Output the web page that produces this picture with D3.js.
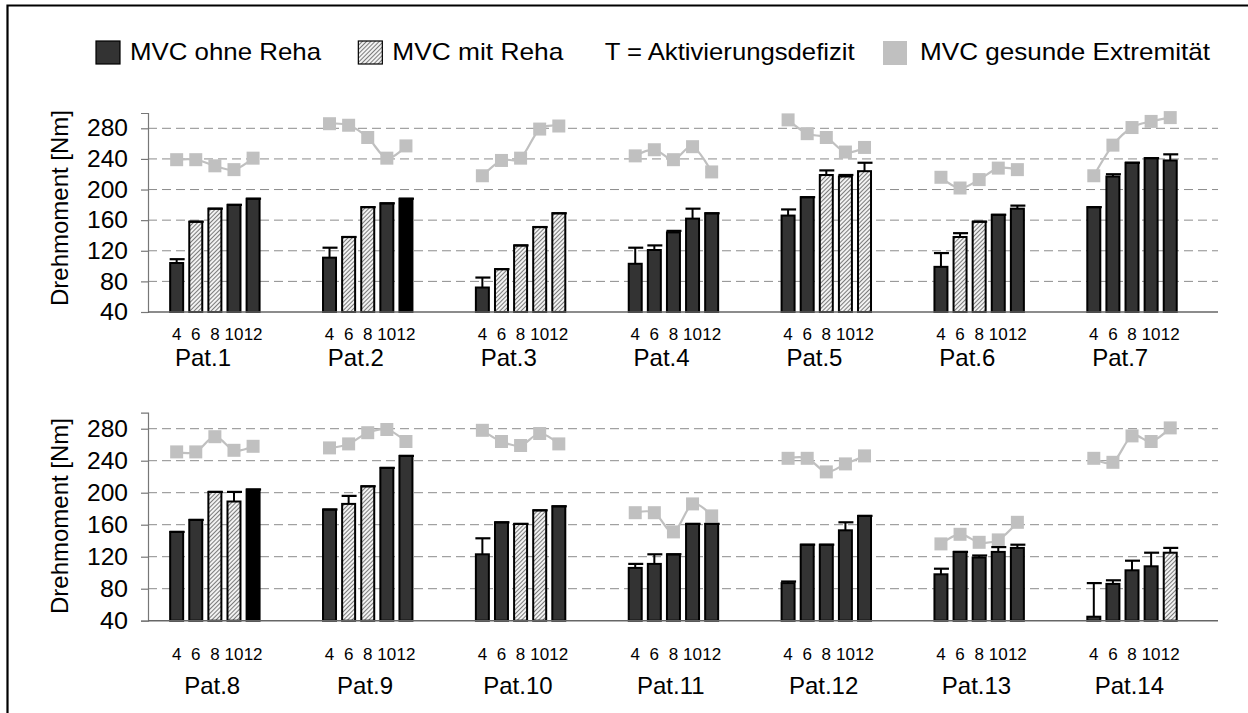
<!DOCTYPE html>
<html>
<head>
<meta charset="utf-8">
<script src="https://cdn.jsdelivr.net/npm/d3@7/dist/d3.min.js"></script>
<style>
  html, body { margin: 0; padding: 0; background: #fff; }
  svg { display: block; font-family: "Liberation Sans", Arial, sans-serif; }
</style>
</head>
<body>
<svg id="chart" width="1248" height="713"></svg>
<script>
// Isokinetic knee torque (MVC) per patient, measured at weeks 4, 6, 8, 10, 12
const patients = ["Pat.1","Pat.2","Pat.3","Pat.4","Pat.5","Pat.6","Pat.7",
                  "Pat.8","Pat.9","Pat.10","Pat.11","Pat.12","Pat.13","Pat.14"];
const visits = ["4","6","8","10","12"];
const yTicks = [40, 80, 120, 160, 200, 240, 280];

// MVC of the injured leg [Nm]
const mvcValues = [
  [104, 158, 175, 180, 188],
  [111, 138, 177, 182, 188],
  [72, 96, 127, 151, 169],
  [103, 121, 144, 162, 169],
  [166, 190, 219, 217, 224],
  [99, 138, 158, 167, 175],
  [177, 217, 235, 241, 238],
  [151, 166, 201, 189, 204],
  [179, 186, 208, 231, 246],
  [123, 163, 161, 178, 183],
  [106, 111, 123, 161, 161],
  [87, 135, 135, 153, 171],
  [98, 126, 119, 126, 131],
  [45, 86, 103, 108, 125]
];

// activation deficit, drawn as upper error bar [Nm]
const deficitValues = [
  [5, 0, 0, 0, 0],
  [13, 0, 0, 0, 0],
  [13, 0, 0, 0, 0],
  [21, 6, 2, 13, 0],
  [8, 0, 6, 2, 11],
  [18, 5, 0, 0, 4],
  [0, 3, 0, 0, 8],
  [0, 0, 0, 12, 0],
  [0, 10, 0, 0, 0],
  [20, 0, 0, 0, 0],
  [5, 12, 0, 0, 0],
  [2, 0, 0, 10, 0],
  [7, 0, 2.5, 6, 4],
  [42, 4.5, 12, 17, 6]
];

// MVC of the healthy leg [Nm]
const healthyValues = [
  [239, 239, 231, 226, 241],
  [286, 284, 268, 241, 257],
  [218, 238, 241, 279, 283],
  [244, 252, 239, 256, 223],
  [291, 273, 268, 249, 255],
  [216, 202, 213, 228, 226],
  [218, 258, 281, 289, 294],
  [251, 251, 270, 253, 258],
  [256, 261, 275, 279, 264],
  [278, 264, 259, 274, 261],
  [175, 175, 151, 186, 171],
  [243, 243, 226, 236, 246],
  [136, 148, 138, 141, 163],
  [243, 238, 271, 264, 281]
];

// "ohne" = without rehab, "mit" = with rehab, "schwarz" = solid black bar
const barKinds = [
  ["ohne","mit","mit","ohne","ohne"],
  ["ohne","mit","mit","ohne","schwarz"],
  ["ohne","mit","mit","mit","mit"],
  ["ohne","ohne","ohne","ohne","ohne"],
  ["ohne","ohne","mit","mit","mit"],
  ["ohne","mit","mit","ohne","ohne"],
  ["ohne","ohne","ohne","ohne","ohne"],
  ["ohne","ohne","mit","mit","schwarz"],
  ["ohne","mit","mit","ohne","ohne"],
  ["ohne","ohne","mit","mit","ohne"],
  ["ohne","ohne","ohne","ohne","ohne"],
  ["ohne","ohne","ohne","ohne","ohne"],
  ["ohne","ohne","ohne","ohne","ohne"],
  ["ohne","ohne","ohne","ohne","mit"]
];

const legendItems = [
  { key: "ohne", label: "MVC ohne Reha" },
  { key: "mit", label: "MVC mit Reha" },
  { key: "text", label: "T = Aktivierungsdefizit" },
  { key: "gesund", label: "MVC gesunde Extremität" }
];

const svg = d3.select("#chart");
const FONT = "'Liberation Sans', Arial, sans-serif";

// hatch for the "mit Reha" bars
const defs = svg.append("defs");
const pat = defs.append("pattern")
  .attr("id", "hatch").attr("patternUnits", "userSpaceOnUse")
  .attr("width", 3).attr("height", 3)
  .attr("patternTransform", "rotate(45)");
pat.append("rect").attr("width", 3).attr("height", 3).attr("fill", "#f2f2f2");
pat.append("line").attr("x1", 0).attr("y1", 0).attr("x2", 0).attr("y2", 3)
  .attr("stroke", "#3a3a3a").attr("stroke-width", 1.3);

const fills = { ohne: "#333333", mit: "url(#hatch)", schwarz: "#000000" };

// outer frame (top and left edges visible)
svg.append("path")
  .attr("d", "M7.5,720 V5.5 H1260")
  .attr("fill", "none").attr("stroke", "#000").attr("stroke-width", 2.2);

// legend
const legend = svg.append("g");
const legendX = d3.scalePoint().domain(legendItems.map(d => d.key)).range([96, 883]);
const legendTextW = { ohne: 191, mit: 171, text: 250, gesund: 290 };
const legendTextGap = { ohne: 34, mit: 34, text: -16, gesund: 37 };
legendItems.forEach(it => {
  const x0 = legendX(it.key);
  if (it.key === "ohne" || it.key === "mit") {
    legend.append("rect").attr("x", x0).attr("y", 41).attr("width", 24).attr("height", 23)
      .attr("fill", fills[it.key]).attr("stroke", "#000").attr("stroke-width", 1.2);
  } else if (it.key === "gesund") {
    legend.append("rect").attr("x", x0).attr("y", 41).attr("width", 24).attr("height", 24)
      .attr("fill", "#c0c0c0");
  }
  legend.append("text")
    .attr("x", x0 + legendTextGap[it.key]).attr("y", 60)
    .attr("font-size", 24).attr("fill", "#000")
    .attr("textLength", legendTextW[it.key]).attr("lengthAdjust", "spacingAndGlyphs")
    .text(it.label);
});

// two panels of seven patients each
const plotLeft = 148, plotRight = 1218;
const panels = [
  { rows: d3.range(0, 7), top: 113, bottom: 312, tickBase: 340, patBase: 366, patPos: 0.36, titleY: 208 },
  { rows: d3.range(7, 14), top: 412.7, bottom: 620.7, tickBase: 660, patBase: 694, patPos: 0.42, titleY: 516 }
];

panels.forEach(p => {
  const g = svg.append("g");
  const y = d3.scaleLinear().domain([40, 300]).range([p.bottom, p.top]);
  const xGroup = d3.scaleBand().domain(p.rows.map(i => patients[i])).range([plotLeft, plotRight]);
  const gw = xGroup.bandwidth();
  const xBar = d3.scaleBand().domain(visits).range([gw / 8, gw * 6 / 8])
    .paddingInner(0.32).paddingOuter(0.16);

  // dashed gridlines
  g.append("g").selectAll("line").data(yTicks.filter(t => t > 40)).join("line")
    .attr("x1", plotLeft).attr("x2", plotRight)
    .attr("y1", d => y(d)).attr("y2", d => y(d))
    .attr("stroke", "#8c8c8c").attr("stroke-width", 1).attr("stroke-dasharray", "9,5");

  // value axis
  const yAxis = d3.axisLeft(y).tickValues(yTicks).tickSize(7).tickFormat(d3.format("d"));
  const ya = g.append("g").attr("transform", `translate(${plotLeft},0)`).call(yAxis);
  ya.select(".domain").attr("stroke", "#777").attr("stroke-width", 1.2);
  ya.selectAll(".tick line").attr("stroke", "#777").attr("stroke-width", 1.2);
  ya.selectAll(".tick text")
    .attr("x", -20).attr("font-size", 24).attr("font-family", FONT).attr("fill", "#000")
    .attr("textLength", d => String(d).length === 3 ? 41 : 28)
    .attr("lengthAdjust", "spacingAndGlyphs");

  // axis title
  g.append("text")
    .attr("transform", `translate(68,${p.titleY}) rotate(-90)`)
    .attr("text-anchor", "middle").attr("font-size", 24).attr("fill", "#000")
    .text("Drehmoment [Nm]");

  p.rows.forEach(i => {
    const gx = xGroup(patients[i]);
    const grp = g.append("g").attr("transform", `translate(${gx},0)`);
    const rows = visits.map((v, k) => ({
      v, value: mvcValues[i][k], def: deficitValues[i][k],
      kind: barKinds[i][k], healthy: healthyValues[i][k]
    }));

    // healthy-leg line with square markers
    const line = d3.line()
      .x(d => xBar(d.v) + xBar.bandwidth() / 2)
      .y(d => y(d.healthy))
      .curve(d3.curveCardinal.tension(0));
    grp.append("path").datum(rows).attr("d", line)
      .attr("fill", "none").attr("stroke", "#c0c0c0").attr("stroke-width", 2.2);
    grp.selectAll("rect.sq").data(rows).join("rect").attr("class", "sq")
      .attr("x", d => xBar(d.v) + xBar.bandwidth() / 2 - 6.5)
      .attr("y", d => y(d.healthy) - 6.5)
      .attr("width", 13).attr("height", 13).attr("fill", "#c0c0c0");

    // bars
    grp.selectAll("rect.bar").data(rows).join("rect").attr("class", "bar")
      .attr("x", d => xBar(d.v)).attr("width", xBar.bandwidth())
      .attr("y", d => y(d.value)).attr("height", d => y(40) - y(d.value))
      .attr("fill", d => fills[d.kind]).attr("stroke", "#000").attr("stroke-width", 2);

    // activation deficit (upper error bars)
    const eb = grp.selectAll("g.err").data(rows).join("g").attr("class", "err");
    eb.append("line")
      .attr("x1", d => xBar(d.v) + xBar.bandwidth() / 2)
      .attr("x2", d => xBar(d.v) + xBar.bandwidth() / 2)
      .attr("y1", d => y(d.value)).attr("y2", d => y(d.value + d.def))
      .attr("stroke", "#000").attr("stroke-width", 2);
    eb.append("line")
      .attr("x1", d => xBar(d.v) + xBar.bandwidth() / 2 - 7)
      .attr("x2", d => xBar(d.v) + xBar.bandwidth() / 2 + 8)
      .attr("y1", d => y(d.value + d.def)).attr("y2", d => y(d.value + d.def))
      .attr("stroke", "#000").attr("stroke-width", 2.2);

    // week labels
    grp.selectAll("text.wk").data(visits).join("text").attr("class", "wk")
      .attr("x", d => xBar(d) + xBar.bandwidth() / 2).attr("y", p.tickBase)
      .attr("text-anchor", "middle").attr("font-size", 17).attr("fill", "#000")
      .text(d => d);

    // patient label
    grp.append("text")
      .attr("x", gw * p.patPos).attr("y", p.patBase)
      .attr("text-anchor", "middle").attr("font-size", 24).attr("fill", "#000")
      .text(patients[i]);
  });

  // category baseline
  g.append("line").attr("x1", plotLeft).attr("x2", plotRight)
    .attr("y1", y(40)).attr("y2", y(40))
    .attr("stroke", "#666").attr("stroke-width", 1.5);
});
</script>
</body>
</html>
